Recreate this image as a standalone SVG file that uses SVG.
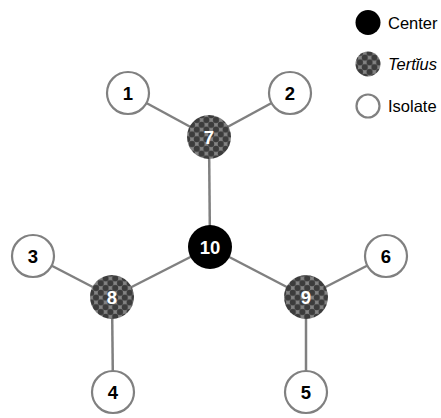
<svg xmlns="http://www.w3.org/2000/svg" width="441" height="418" viewBox="0 0 441 418">
  <defs>
    <!-- checkered dot fill for brokers -->
    <pattern id="checker" patternUnits="userSpaceOnUse" width="9.6" height="9.6" x="0" y="0">
      <rect width="9.6" height="9.6" fill="#858585"/>
      <g fill="#3c3c3c">
        <circle cx="0" cy="0" r="3.1"/>
        <circle cx="9.6" cy="0" r="3.1"/>
        <circle cx="0" cy="9.6" r="3.1"/>
        <circle cx="9.6" cy="9.6" r="3.1"/>
        <circle cx="4.8" cy="4.8" r="3.1"/>
      </g>
    </pattern>
    <style>
      .edge { stroke: #808080; stroke-width: 2.5; fill: none; }
      .isolate { fill: #ffffff; stroke: #808080; stroke-width: 2.2; }
      .tertius { fill: url(#checker); }
      .center { fill: #000000; }
      .lbl { font-family: "Liberation Sans", Arial, sans-serif; font-weight: bold; font-size: 18.5px; text-anchor: middle; }
      .dark { fill: #000000; }
      .light { fill: #ffffff; }
      .legend { font-family: "Liberation Sans", Arial, sans-serif; font-size: 16.5px; fill: #000000; }
    </style>
  </defs>
  <rect width="441" height="418" fill="#ffffff"/>

  <g id="edges">
    <line class="edge" x1="128" y1="93" x2="209" y2="137"/>
    <line class="edge" x1="290" y1="93" x2="209" y2="137"/>
    <line class="edge" x1="209" y1="137" x2="210" y2="247"/>
    <line class="edge" x1="210" y1="247" x2="112" y2="297"/>
    <line class="edge" x1="210" y1="247" x2="306" y2="297"/>
    <line class="edge" x1="33" y1="256" x2="112" y2="297"/>
    <line class="edge" x1="112" y1="297" x2="113" y2="392"/>
    <line class="edge" x1="386" y1="256" x2="306" y2="297"/>
    <line class="edge" x1="306" y1="297" x2="306" y2="392"/>
  </g>

  <g id="node-10"><circle class="center" cx="210" cy="247" r="22"/><text class="lbl light" x="210" y="253.5">10</text></g>
  <g id="node-7"><circle class="tertius" cx="209" cy="137" r="22"/><text class="lbl light" x="209" y="143.5">7</text></g>
  <g id="node-8"><circle class="tertius" cx="112" cy="297" r="22"/><text class="lbl light" x="112" y="303.5">8</text></g>
  <g id="node-9"><circle class="tertius" cx="306" cy="297" r="22"/><text class="lbl light" x="306" y="303.5">9</text></g>
  <g id="node-1"><circle class="isolate" cx="128" cy="93" r="21"/><text class="lbl dark" x="128" y="99.5">1</text></g>
  <g id="node-2"><circle class="isolate" cx="290" cy="93" r="21"/><text class="lbl dark" x="290" y="99.5">2</text></g>
  <g id="node-3"><circle class="isolate" cx="33" cy="256" r="21"/><text class="lbl dark" x="33" y="262.5">3</text></g>
  <g id="node-6"><circle class="isolate" cx="386" cy="256" r="21"/><text class="lbl dark" x="386" y="262.5">6</text></g>
  <g id="node-4"><circle class="isolate" cx="113" cy="392" r="21"/><text class="lbl dark" x="113" y="398.5">4</text></g>
  <g id="node-5"><circle class="isolate" cx="306" cy="392" r="21"/><text class="lbl dark" x="306" y="398.5">5</text></g>

  <g id="legend">
    <circle class="center" cx="368" cy="22.5" r="12.5"/>
    <text class="legend" x="388" y="28.5">Center</text>
    <circle class="tertius" cx="368" cy="64" r="12.5"/>
    <text class="legend" x="388" y="70" font-style="italic">Tertĭus</text>
    <circle class="isolate" cx="368" cy="106" r="11.5" stroke-width="2.2"/>
    <text class="legend" x="388" y="112">Isolate</text>
  </g>
</svg>
